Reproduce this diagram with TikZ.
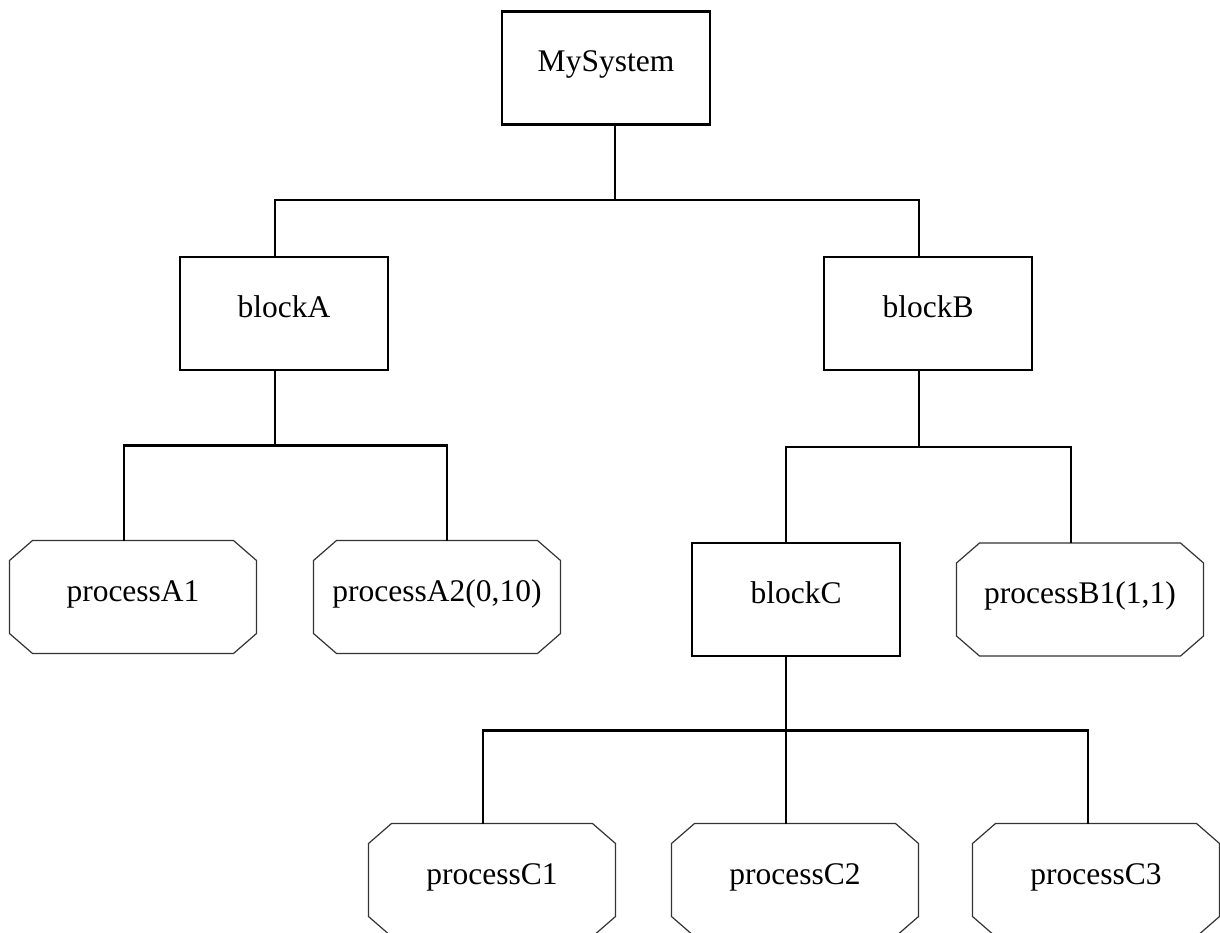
\documentclass[tikz,border=0pt]{standalone}
\usepackage{fontspec}
\setmainfont{Liberation Serif}

\tikzset{
  box/.style={draw, line width=2.2pt, minimum width=208pt, minimum height=113pt,
    inner sep=0pt, outer sep=0pt, text height=22pt, text depth=14pt, font=\fontsize{31.5}{36}\selectfont},
  proc/.style={minimum width=247pt, minimum height=113pt,
    inner sep=0pt, outer sep=0pt, text height=22pt, text depth=14pt, font=\fontsize{31.5}{36}\selectfont},
  procline/.style={draw=black!80, line width=1.2pt},
  wire/.style={line width=2.2pt}
}

\begin{document}
\begin{tikzpicture}[x=1pt,y=-1pt]
  \useasboundingbox (0,0) rectangle (1220,933);

  \node [box] (sys) at (606,68) {MySystem};

  \node [box] (a) at (284,313.5) {blockA};
  \node [box] (b) at (928,313.5) {blockB};

  \node [proc] (a1) at (133,597) {processA1};
  \node [proc] (a2) at (437,597) {processA2(0,10)};
  \node [box] (c) at (796,599.5) {blockC};
  \node [proc] (b1) at (1080,599.5) {processB1(1,1)};

  \node [proc] (c1) at (492,880) {processC1};
  \node [proc] (c2) at (795,880) {processC2};
  \node [proc] (c3) at (1096,880) {processC3};

  % chamfered outlines of the process nodes
  \foreach \n in {a1,a2,b1,c1,c2,c3}
    \draw [procline] ([xshift=23pt]\n.north west) -- ([xshift=-23pt]\n.north east)
      -- ([yshift=-20pt]\n.north east) -- ([yshift=20pt]\n.south east)
      -- ([xshift=-23pt]\n.south east) -- ([xshift=23pt]\n.south west)
      -- ([yshift=20pt]\n.south west) -- ([yshift=-20pt]\n.north west) -- cycle;

  \draw [wire] ([xshift=-9pt]a.north) -- ++(0,-57) -| ([xshift=9pt]sys.south);
  \draw [wire] ([xshift=-9pt]b.north) -- ++(0,-57) -| ([xshift=9pt]sys.south);

  \draw [wire] ([xshift=-9pt]a1.north) -- ++(0,-95) -| ([xshift=-9pt]a.south);
  \draw [wire] ([xshift=10pt]a2.north) -- ++(0,-95) -| ([xshift=-9pt]a.south);

  \draw [wire] ([xshift=-10pt]c.north) -- ++(0,-96) -| ([xshift=-9pt]b.south);
  \draw [wire] ([xshift=-9pt]b1.north) -- ++(0,-96) -| ([xshift=-9pt]b.south);

  \draw [wire] ([xshift=-9pt]c1.north) -- ++(0,-93) -| ([xshift=-10pt]c.south);
  \draw [wire] ([xshift=-9pt]c2.north) -- ++(0,-93) -| ([xshift=-10pt]c.south);
  \draw [wire] ([xshift=-8pt]c3.north) -- ++(0,-93) -| ([xshift=-10pt]c.south);
\end{tikzpicture}
\end{document}
